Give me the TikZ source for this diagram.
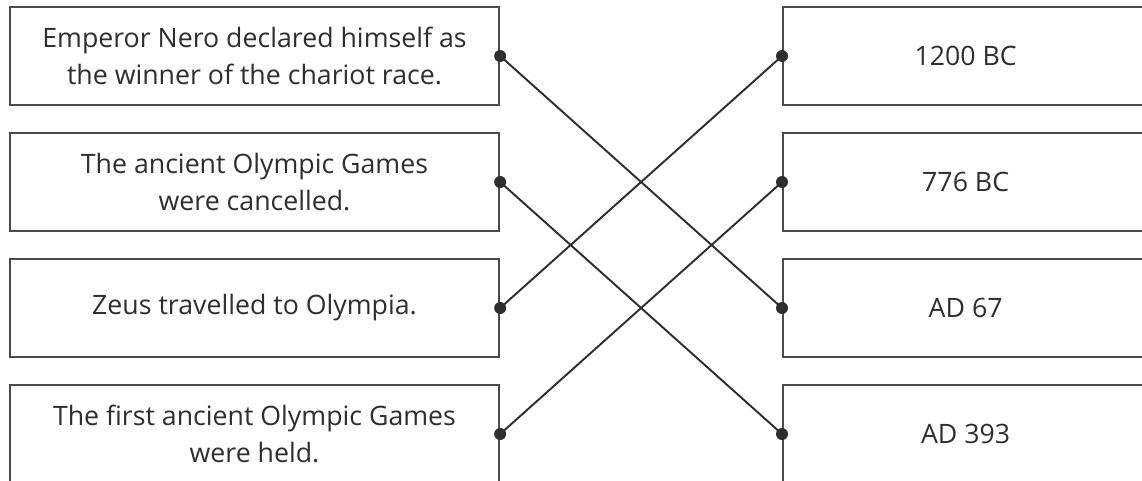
\documentclass[tikz,border=0pt]{standalone}
\usepackage{fontspec}
\setmainfont{Open Sans}
\usetikzlibrary{positioning}
\definecolor{rahmen}{HTML}{4A4A4A}
\definecolor{schrift}{HTML}{2E2E2E}
\begin{document}
\begin{tikzpicture}[node distance=2.52cm, auto,
		ereignis/.style={draw=rahmen, rectangle, line width=1.3pt, minimum width=9.78cm, minimum height=1.96cm, align=center, text=schrift, font=\fontsize{15.2}{21}\selectfont},
		datum/.style={ereignis, minimum width=7.3cm},
		punkt/.style={fill=schrift}]
		\useasboundingbox (0,0) rectangle (22.84,9.6);
		\clip (0,0) rectangle (22.84,9.6);
		\node (nero) [ereignis] at (5.09,8.48) {Emperor Nero declared himself as\\the winner of the chariot race.};
		\node (abgesagt) [below of=nero, ereignis] {The ancient Olympic Games\\were cancelled.};
		\node (zeus) [below of=abgesagt, ereignis] {Zeus travelled to Olympia.};
		\node (erste) [below of=zeus, ereignis] {The first ancient Olympic Games\\were held.};
		
		\node (bc1200) [datum, anchor=west] at (15.64,8.48) {1200 BC};
		\node (bc776) [below of=bc1200, datum] {776 BC};
		\node (ad67) [below of=bc776, datum] {AD 67};
		\node (ad393) [below of=ad67, datum] {AD 393};
		
		\draw[schrift, line width=1.1pt] (nero.east) -- (ad67.west);
		\draw[schrift, line width=1.1pt] (abgesagt.east) -- (ad393.west);
		\draw[schrift, line width=1.1pt] (zeus.east) -- (bc1200.west);
		\draw[schrift, line width=1.1pt] (erste.east) -- (bc776.west);
		
		\foreach \n in {nero, abgesagt, zeus, erste}
			\fill[punkt] (\n.east) circle (0.12);
		\foreach \n in {bc1200, bc776, ad67, ad393}
			\fill[punkt] (\n.west) circle (0.12);
	\end{tikzpicture}
\end{document}
